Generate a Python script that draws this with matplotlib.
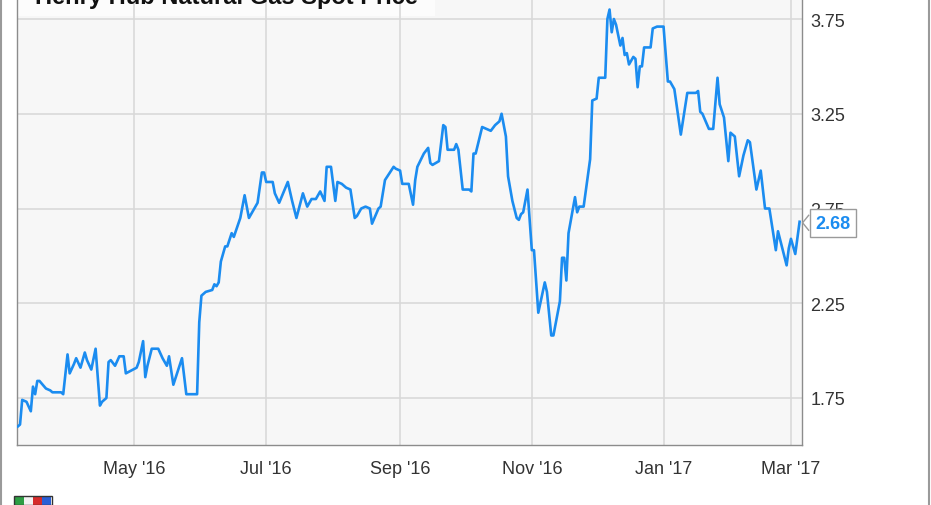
import matplotlib
matplotlib.use("Agg")
import matplotlib.pyplot as plt
import matplotlib.dates as mdates
from matplotlib.patches import Rectangle, Polygon
import pandas as pd

# Henry Hub natural gas spot price, USD/MMBtu
dates = [
    "2016-03-08", "2016-03-09", "2016-03-10", "2016-03-12", "2016-03-14", "2016-03-15",
    "2016-03-16", "2016-03-17", "2016-03-18", "2016-03-21", "2016-03-23", "2016-03-24",
    "2016-03-28", "2016-03-29", "2016-03-31", "2016-04-01", "2016-04-03", "2016-04-04",
    "2016-04-06", "2016-04-08", "2016-04-09", "2016-04-11", "2016-04-13", "2016-04-15",
    "2016-04-16", "2016-04-18", "2016-04-19", "2016-04-20", "2016-04-22", "2016-04-24",
    "2016-04-26", "2016-04-27", "2016-05-02", "2016-05-03", "2016-05-05", "2016-05-06",
    "2016-05-07", "2016-05-09", "2016-05-12", "2016-05-14", "2016-05-16", "2016-05-17",
    "2016-05-19", "2016-05-23", "2016-05-25", "2016-05-30", "2016-05-31", "2016-06-01",
    "2016-06-03", "2016-06-06", "2016-06-07", "2016-06-08", "2016-06-09", "2016-06-10",
    "2016-06-12", "2016-06-13", "2016-06-15", "2016-06-16", "2016-06-19", "2016-06-21",
    "2016-06-23", "2016-06-27", "2016-06-29", "2016-06-30", "2016-07-01", "2016-07-04",
    "2016-07-05", "2016-07-07", "2016-07-11", "2016-07-13", "2016-07-15", "2016-07-18",
    "2016-07-20", "2016-07-22", "2016-07-24", "2016-07-26", "2016-07-28", "2016-07-29",
    "2016-07-31", "2016-08-02", "2016-08-03", "2016-08-05", "2016-08-07", "2016-08-09",
    "2016-08-11", "2016-08-12", "2016-08-14", "2016-08-16", "2016-08-18", "2016-08-19",
    "2016-08-22", "2016-08-23", "2016-08-25", "2016-08-29", "2016-08-30", "2016-09-01",
    "2016-09-02", "2016-09-05", "2016-09-07", "2016-09-08", "2016-09-09", "2016-09-12",
    "2016-09-14", "2016-09-15", "2016-09-16", "2016-09-19", "2016-09-21", "2016-09-22",
    "2016-09-23", "2016-09-26", "2016-09-27", "2016-09-28", "2016-09-30", "2016-10-03",
    "2016-10-04", "2016-10-05", "2016-10-06", "2016-10-09", "2016-10-11", "2016-10-13",
    "2016-10-15", "2016-10-17", "2016-10-18", "2016-10-20", "2016-10-21", "2016-10-23",
    "2016-10-25", "2016-10-26", "2016-10-27", "2016-10-28", "2016-10-30", "2016-11-01",
    "2016-11-02", "2016-11-04", "2016-11-07", "2016-11-08", "2016-11-10", "2016-11-11",
    "2016-11-14", "2016-11-15", "2016-11-16", "2016-11-17", "2016-11-18", "2016-11-21",
    "2016-11-22", "2016-11-23", "2016-11-25", "2016-11-28", "2016-11-29", "2016-12-01",
    "2016-12-02", "2016-12-05", "2016-12-06", "2016-12-07", "2016-12-08", "2016-12-09",
    "2016-12-10", "2016-12-12", "2016-12-13", "2016-12-14", "2016-12-15", "2016-12-16",
    "2016-12-18", "2016-12-19", "2016-12-20", "2016-12-21", "2016-12-22", "2016-12-23",
    "2016-12-26", "2016-12-27", "2016-12-29", "2017-01-01", "2017-01-03", "2017-01-04",
    "2017-01-06", "2017-01-09", "2017-01-12", "2017-01-16", "2017-01-17", "2017-01-18",
    "2017-01-19", "2017-01-22", "2017-01-24", "2017-01-26", "2017-01-27", "2017-01-29",
    "2017-01-31", "2017-02-01", "2017-02-03", "2017-02-05", "2017-02-07", "2017-02-09",
    "2017-02-10", "2017-02-13", "2017-02-15", "2017-02-17", "2017-02-19", "2017-02-22",
    "2017-02-23", "2017-02-27", "2017-02-28", "2017-03-01", "2017-03-03", "2017-03-05",
]
prices = [
    1.60, 1.61, 1.74, 1.73, 1.68, 1.81, 1.77, 1.84, 1.84, 1.80, 1.79, 1.78,
    1.78, 1.77, 1.98, 1.88, 1.93, 1.96, 1.91, 1.99, 1.95, 1.90, 2.01, 1.71,
    1.73, 1.75, 1.94, 1.95, 1.92, 1.97, 1.97, 1.88, 1.91, 1.94, 2.05, 1.86,
    1.92, 2.01, 2.01, 1.96, 1.92, 1.97, 1.82, 1.96, 1.77, 1.77, 2.15, 2.29,
    2.31, 2.32, 2.35, 2.34, 2.36, 2.47, 2.55, 2.55, 2.62, 2.60, 2.70, 2.82,
    2.70, 2.78, 2.94, 2.94, 2.89, 2.89, 2.83, 2.78, 2.89, 2.79, 2.70, 2.83,
    2.76, 2.80, 2.80, 2.84, 2.79, 2.97, 2.97, 2.79, 2.89, 2.88, 2.86, 2.85,
    2.70, 2.71, 2.75, 2.76, 2.75, 2.67, 2.75, 2.76, 2.90, 2.97, 2.96, 2.95,
    2.88, 2.88, 2.77, 2.90, 2.97, 3.04, 3.07, 2.99, 2.98, 3.00, 3.19, 3.18,
    3.06, 3.06, 3.09, 3.06, 2.85, 2.85, 2.84, 3.04, 3.04, 3.18, 3.17, 3.16,
    3.19, 3.21, 3.25, 3.13, 2.92, 2.79, 2.70, 2.69, 2.72, 2.73, 2.85, 2.53,
    2.53, 2.20, 2.36, 2.31, 2.08, 2.08, 2.26, 2.49, 2.49, 2.37, 2.62, 2.81,
    2.73, 2.76, 2.76, 3.01, 3.32, 3.33, 3.44, 3.44, 3.75, 3.80, 3.68, 3.75,
    3.72, 3.61, 3.65, 3.56, 3.57, 3.51, 3.55, 3.54, 3.39, 3.50, 3.50, 3.60,
    3.60, 3.70, 3.71, 3.71, 3.42, 3.42, 3.38, 3.14, 3.36, 3.36, 3.37, 3.26,
    3.25, 3.17, 3.17, 3.44, 3.30, 3.23, 3.00, 3.15, 3.13, 2.92, 3.03, 3.11,
    3.10, 2.85, 2.95, 2.75, 2.75, 2.53, 2.63, 2.45, 2.54, 2.59, 2.51, 2.68,
]

xtick_dates = ["2016-05-01", "2016-07-01", "2016-09-01", "2016-11-01", "2017-01-01", "2017-03-01"]
xtick_labels = ["May '16", "Jul '16", "Sep '16", "Nov '16", "Jan '17", "Mar '17"]
ytick_vals = [1.75, 2.25, 2.75, 3.25, 3.75]
title = "Henry Hub Natural Gas Spot Price"

LINE = "#1b8cf0"
TXT = "#333333"

plt.rcParams["font.family"] = ["Liberation Sans", "DejaVu Sans"]

fig = plt.figure(figsize=(9.31, 5.06), dpi=100)
# plot area runs above the top edge of the image, so the title gets cut
ax = fig.add_axes([0.0178, 0.1186, 0.8436, 0.9205])
ax.set_facecolor("#f7f7f7")

x = pd.to_datetime(dates)
ax.plot(x, prices, color=LINE, lw=1.9, solid_joinstyle="round", zorder=3)

start = pd.Timestamp("2016-05-01")
ax.set_xlim(mdates.date2num(start + pd.Timedelta(days=-54.6)),
            mdates.date2num(start + pd.Timedelta(days=309.1)))
ax.set_ylim(1.502, 3.96)

ax.set_xticks(pd.to_datetime(xtick_dates))
ax.set_xticklabels(xtick_labels)
ax.yaxis.tick_right()
ax.set_yticks(ytick_vals)
ax.set_yticklabels([f"{v:.2f}" for v in ytick_vals])
ax.tick_params(axis="both", length=0, labelsize=13, colors=TXT)
ax.tick_params(axis="x", pad=11)
ax.tick_params(axis="y", pad=6)

ax.set_axisbelow(True)
ax.grid(True, color="#d9d9d9", lw=1.2)
ax.spines["top"].set_visible(False)
for s in ["left", "right", "bottom"]:
    ax.spines[s].set_color("#8c8c8c")
    ax.spines[s].set_linewidth(1.0)

# title box at the top-left of the plot area
ax.add_patch(Rectangle((0.001, (506 - 17 - 60) / 465.8), (435 - 17) / 785.4, 0.2,
                       transform=ax.transAxes, facecolor="#fcfcfc", edgecolor="none",
                       zorder=0.3))
fig.text(35 / 931, 1 - 4 / 506, title, fontsize=17, fontweight="bold",
         color="#111111", ha="left", va="baseline")

# last-value flag with a small pointer towards the line end
last_x = mdates.date2num(x[-1])
last_y = prices[-1]
ax.annotate(f"{last_y:.2f}", xy=(last_x, last_y), xytext=(11.5, -1),
            textcoords="offset points", ha="left", va="center",
            fontsize=13, fontweight="bold", color=LINE, zorder=6,
            annotation_clip=False,
            bbox=dict(boxstyle="square,pad=0.3", fc="white", ec="#9a9a9a", lw=1.0))
base = ax.transData.transform((last_x, last_y))
inv = fig.transFigure.inverted()
ptr = [inv.transform(p) for p in [(base[0] + 9.5, base[1] + 7),
                                  (base[0] + 3, base[1] - 1),
                                  (base[0] + 9.5, base[1] - 9)]]
fig.patches.append(Polygon(ptr, closed=False, fill=False, ec="#9a9a9a", lw=1.0,
                           transform=fig.transFigure, zorder=7))

# small logo mark, bottom left
for i, c in enumerate(["#2e9e44", "#f2f2f2", "#d62b2b", "#2b5fd6"]):
    fig.patches.append(Rectangle(((15 + i * 9) / 931, 0), 9 / 931, 8 / 506,
                                 transform=fig.transFigure, fc=c, ec="none"))
fig.patches.append(Rectangle((14 / 931, 0), 38 / 931, 9 / 506, transform=fig.transFigure,
                             fill=False, ec="#333333", lw=1.0))

# outer frame
fig.patches.append(Rectangle((0.001, -0.01), 0.997, 1.2, transform=fig.transFigure,
                             fill=False, ec="#9a9a9a", lw=1.5))

fig.savefig("out.png", dpi=100)
